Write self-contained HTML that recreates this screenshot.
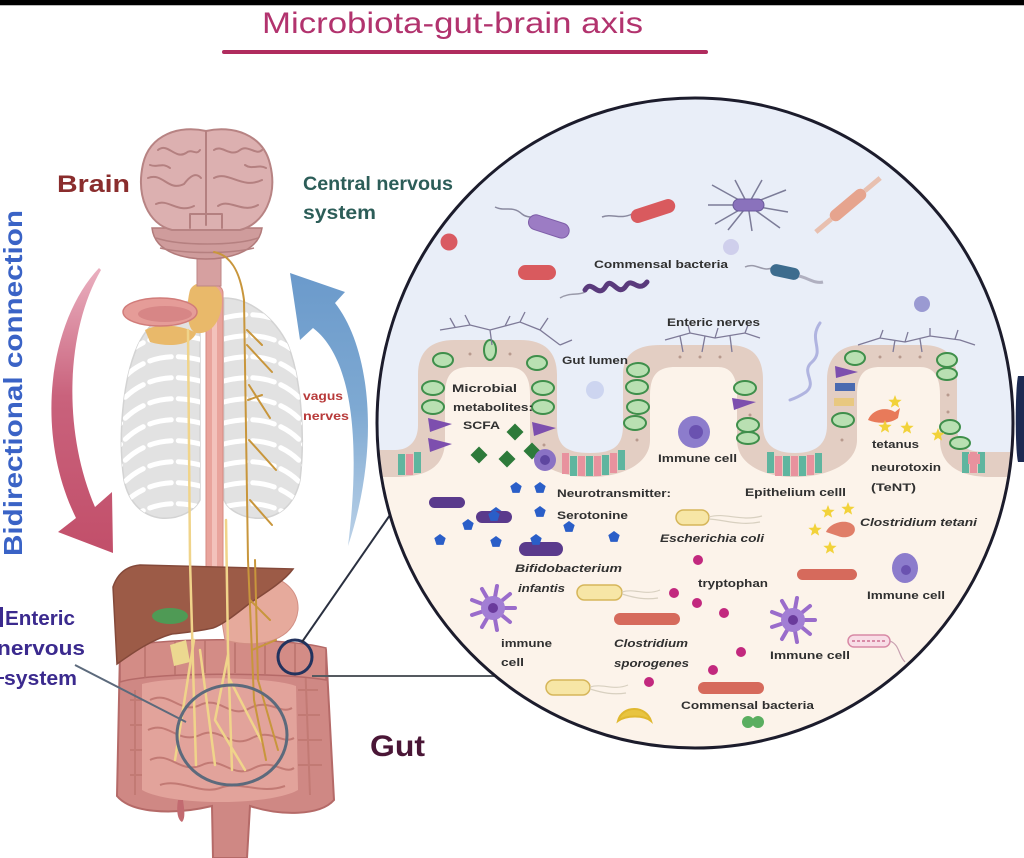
<!DOCTYPE html>
<html><head><meta charset="utf-8"><style>
html,body{margin:0;padding:0;background:#fff;}
svg{display:block;}
text{font-family:"Liberation Sans",sans-serif;}
</style></head><body>
<svg width="1024" height="858" viewBox="0 0 1024 858" xmlns="http://www.w3.org/2000/svg">
<defs>
<clipPath id="cc"><ellipse cx="695" cy="423" rx="318" ry="325"/></clipPath>
<clipPath id="rib">
<path d="M200 300 C175 300 150 320 138 345 C122 380 118 440 124 480 C128 500 140 515 160 518 C180 520 195 510 200 500 Z"/>
<path d="M224 298 C250 298 275 318 288 345 C302 380 305 440 300 480 C296 500 284 515 264 518 C244 520 228 510 224 500 Z"/>
</clipPath>
<polygon id="pent" points="0,-6 5.7,-1.85 3.5,4.85 -3.5,4.85 -5.7,-1.85"/>
<polygon id="star" points="0,-7 1.76,-2.43 6.66,-2.16 2.85,0.93 4.11,5.66 0,3 -4.11,5.66 -2.85,0.93 -6.66,-2.16 -1.76,-2.43"/>
<linearGradient id="rg" x1="0" y1="0" x2="0" y2="1"><stop offset="0" stop-color="#eab0c0"/><stop offset="0.45" stop-color="#c9627c"/><stop offset="1" stop-color="#c24f6a"/></linearGradient>
<linearGradient id="bgr" x1="0" y1="1" x2="0" y2="0"><stop offset="0" stop-color="#bcd2e8"/><stop offset="0.5" stop-color="#7ea9d2"/><stop offset="1" stop-color="#6b9acb"/></linearGradient>
</defs>
<rect width="1024" height="858" fill="#fff"/>
<rect width="1024" height="5" fill="#000"/>
<rect y="5" width="1024" height="1" fill="#bbb"/>

<!-- Title -->
<text x="262" y="33" font-size="30" fill="#b2336e" textLength="381" lengthAdjust="spacingAndGlyphs">Microbiota-gut-brain axis</text>
<rect x="222" y="50" width="486" height="4" rx="2" fill="#b02c5e"/>

<!-- Arrows -->
<path d="M99 268 C50 320 33 430 76 518 L58 532 L113 553 L112 492 L95 507 C62 430 66 330 101 270 Z" fill="url(#rg)"/>
<path d="M290 273 L345 292 L335 303 C372 350 380 450 348 546 C360 450 355 360 313 328 L300 340 Z" fill="url(#bgr)"/>

<!-- Ribcage -->
<g fill="#e2e2e2" stroke="#d3d3d3" stroke-width="1.5">
<path d="M200 300 C175 300 150 320 138 345 C122 380 118 440 124 480 C128 500 140 515 160 518 C180 520 195 510 200 500 Z"/>
<path d="M224 298 C250 298 275 318 288 345 C302 380 305 440 300 480 C296 500 284 515 264 518 C244 520 228 510 224 500 Z"/>
</g>
<g clip-path="url(#rib)" stroke="#fff" stroke-width="5" fill="none" stroke-linecap="round" stroke-dasharray="22 7">
<path d="M200 318 C170 310 140 316 120 340"/><path d="M200 339 C170 331 140 337 120 361"/><path d="M200 360 C170 352 140 358 120 382"/><path d="M200 381 C170 373 140 379 120 403"/><path d="M200 402 C170 394 140 400 120 424"/><path d="M200 423 C170 415 140 421 120 445"/><path d="M200 444 C170 436 140 442 120 466"/><path d="M200 465 C170 457 140 463 120 487"/><path d="M200 486 C170 478 140 484 120 508"/><path d="M200 507 C170 499 140 505 120 529"/>
<path d="M224 318 C254 310 284 316 304 340"/><path d="M224 339 C254 331 284 337 304 361"/><path d="M224 360 C254 352 284 358 304 382"/><path d="M224 381 C254 373 284 379 304 403"/><path d="M224 402 C254 394 284 400 304 424"/><path d="M224 423 C254 415 284 421 304 445"/><path d="M224 444 C254 436 284 442 304 466"/><path d="M224 465 C254 457 284 463 304 487"/><path d="M224 486 C254 478 284 484 304 508"/><path d="M224 507 C254 499 284 505 304 529"/>
</g>

<!-- esophagus / spinal tube -->
<rect x="206" y="285" width="17" height="305" rx="8" fill="#e9a49c" stroke="#d68a82" stroke-width="1"/>
<rect x="212" y="290" width="5" height="295" fill="#f3c2bb"/>

<!-- thyroid & mouth -->
<path d="M190 290 C195 278 222 280 222 300 C222 322 210 335 196 333 C186 330 186 305 190 290 Z" fill="#e9b96a"/>
<path d="M145 330 C160 322 185 326 196 333 C192 345 170 348 150 342 Z" fill="#e9b96a"/>
<ellipse cx="160" cy="312" rx="37" ry="14" fill="#e59c98" stroke="#d17c7a" stroke-width="1.5"/>
<ellipse cx="165" cy="314" rx="27" ry="8" fill="#d78686"/>

<!-- Brain -->
<rect x="197" y="222" width="24" height="64" fill="#d6a0a0" stroke="#bd8686" stroke-width="1"/>
<path d="M152 228 C155 255 190 259 206 259 C222 259 258 255 262 228 Z" fill="#cf9c9c" stroke="#b27b7b" stroke-width="1.5"/>
<path d="M156 238 C180 246 235 246 258 238 M160 248 C185 254 230 254 254 248" fill="none" stroke="#b58080" stroke-width="1.5"/>
<path d="M206 131 C180 125 150 134 143 164 C136 196 148 224 172 230 L240 230 C264 224 278 196 270 164 C263 134 232 125 206 131 Z" fill="#dcb0b0" stroke="#b78383" stroke-width="2"/>
<g fill="none" stroke="#b48080" stroke-width="2" stroke-linecap="round">
<path d="M206 132 L206 225"/>
<path d="M158 150 C168 142 175 160 186 153 C192 148 196 156 200 150"/>
<path d="M148 178 C163 172 168 192 184 184 C190 176 196 172 201 178"/>
<path d="M156 204 C168 198 178 214 194 206"/>
<path d="M150 165 C158 168 162 162 170 168"/>
<path d="M214 150 C222 144 230 158 240 150 C248 144 256 156 262 150"/>
<path d="M214 178 C228 170 242 190 262 180"/>
<path d="M218 206 C230 198 242 214 258 205"/>
<path d="M245 165 C252 170 258 164 266 168"/>
<path d="M190 214 L222 214 M190 214 L190 228 M222 214 L222 228"/>
</g>

<!-- Gut organs -->
<path d="M120 650 C150 640 280 638 326 650 L334 800 C320 816 280 816 250 806 L247 858 L213 858 L212 806 C170 816 130 812 117 796 Z" fill="#cf8884" stroke="#b56a68" stroke-width="2"/>
<path d="M142 684 C170 676 270 676 296 686 L298 790 C270 806 170 806 142 790 Z" fill="#e2a39b"/>
<g fill="none" stroke="#c27a74" stroke-width="2">
<path d="M150 700 C170 690 180 715 200 705 C220 695 230 720 250 708 C270 698 280 715 292 708"/>
<path d="M148 730 C168 720 178 745 200 735 C220 725 230 750 252 738 C272 728 282 745 294 738"/>
<path d="M150 760 C170 750 180 775 202 765 C222 755 232 780 254 768 C274 758 284 775 294 768"/>
<path d="M160 785 C180 778 200 795 220 788 C240 780 260 795 285 786"/>
<path d="M135 690 L135 795 M305 660 L310 795"/>
<path d="M130 700 L142 700 M130 725 L142 725 M130 750 L142 750 M130 775 L142 775"/>
<path d="M298 690 L318 690 M298 715 L320 715 M298 740 L322 740 M298 765 L322 765"/>
</g>
<path d="M120 648 C150 638 280 636 326 648 L326 680 C280 672 150 672 120 682 Z" fill="#d38c86" stroke="#b56a68" stroke-width="1.5"/>
<g stroke="#b9716c" stroke-width="1.5"><line x1="145" y1="645" x2="145" y2="678"/><line x1="175" y1="642" x2="175" y2="675"/><line x1="205" y1="640" x2="205" y2="673"/><line x1="235" y1="640" x2="235" y2="673"/><line x1="265" y1="641" x2="265" y2="674"/><line x1="295" y1="643" x2="295" y2="676"/></g>
<path d="M178 800 C176 812 178 820 182 822 C186 818 184 808 183 800 Z" fill="#c26a70"/>
<path d="M215 580 C250 565 300 575 298 610 C295 640 260 650 225 640 Z" fill="#e6aa9c" stroke="#d28f84" stroke-width="1"/>
<path d="M113 587 C118 572 128 566 140 565 L293 569 C285 580 270 590 250 603 C235 615 222 625 213 628 C195 632 180 633 172 634 C150 640 130 655 117 664 Z" fill="#9c5b47" stroke="#84493a" stroke-width="1.5"/>
<ellipse cx="170" cy="616" rx="18" ry="8" fill="#4f9a55"/>
<path d="M170 645 L186 640 L190 662 L174 666 Z" fill="#ecd890"/>

<!-- Nerves -->
<g fill="none" stroke-linecap="round">
<g stroke="#f0d48a" stroke-width="2.5">
<path d="M188 330 L190 560 L194 700 L196 765"/>
<path d="M226 520 L228 650 L232 770"/>
<path d="M194 640 L175 760"/>
<path d="M200 650 L215 765"/>
<path d="M228 655 L215 720 L245 770"/>
<path d="M230 680 L262 742"/>
</g>
<g stroke="#c8963c" stroke-width="2">
<path d="M214 252 C230 255 240 270 244 300 L248 560 L254 700 L266 760"/>
<path d="M255 560 L258 680 L278 750"/>
<path d="M247 345 L272 372 M249 385 L270 418 M249 440 L276 470 M250 500 L272 525 M247 330 L262 345 M248 400 L262 395 M250 600 L270 620 M252 650 L276 640"/>
</g>
</g>

<!-- Enteric circles & connector lines -->
<ellipse cx="232" cy="735" rx="55" ry="50" fill="none" stroke="#5c6a7c" stroke-width="3"/>
<line x1="75" y1="665" x2="186" y2="722" stroke="#5c6a7c" stroke-width="2"/>
<circle cx="295" cy="657" r="17" fill="none" stroke="#23335e" stroke-width="3"/>
<line x1="302" y1="642" x2="390" y2="515" stroke="#2a3040" stroke-width="2"/>
<line x1="312" y1="676" x2="497" y2="676" stroke="#555a60" stroke-width="2"/>

<!-- Zoom circle -->
<g clip-path="url(#cc)">
<rect x="370" y="90" width="660" height="670" fill="#e9eef8"/>
<path d="M360 450 L395 450 C410 450 418 440 418 425 L418 375 C418 352 430 340 455 340 L520 340 C545 340 557 352 557 375 L557 425 C557 445 565 453 590 453 C615 453 623 445 623 425 L623 375 C623 355 635 345 660 345 L728 345 C753 345 763 357 763 380 L763 425 C763 445 775 453 795 453 C815 453 827 445 827 425 L827 380 C827 357 840 345 862 345 L922 345 C947 345 957 357 957 380 L957 425 C957 445 965 452 985 452 L1030 452 L1030 800 L360 800 Z" fill="#e3cec3"/>
<path d="M360 477 L395 477 C430 477 445 465 445 440 L445 395 C445 375 452 367 470 367 L508 367 C525 367 530 378 530 395 L530 440 C530 465 560 477 590 477 C620 477 650 465 650 440 L650 395 C650 375 658 367 675 367 L718 367 C732 367 737 378 737 395 L737 440 C737 465 765 477 795 477 C825 477 857 465 857 440 L857 395 C857 375 864 367 880 367 L920 367 C935 367 940 378 940 395 L940 440 C940 465 960 477 990 477 L1030 477 L1030 800 L360 800 Z" fill="#fcf3ea"/>
<!-- crypt cells -->
<g>
<rect x="398" y="454" width="7" height="21" fill="#5fb59f"/><rect x="406" y="454" width="7" height="21" fill="#e8929e"/><rect x="414" y="452" width="7" height="21" fill="#5fb59f"/>
<rect x="562" y="453" width="7" height="21" fill="#e8929e"/><rect x="570" y="456" width="7" height="20" fill="#5fb59f"/><rect x="578" y="456" width="7" height="20" fill="#e8929e"/><rect x="586" y="456" width="7" height="20" fill="#5fb59f"/><rect x="594" y="456" width="7" height="20" fill="#e8929e"/><rect x="602" y="455" width="7" height="20" fill="#5fb59f"/><rect x="610" y="453" width="7" height="20" fill="#e8929e"/><rect x="618" y="450" width="7" height="20" fill="#5fb59f"/>
<rect x="767" y="452" width="7" height="21" fill="#5fb59f"/><rect x="775" y="456" width="7" height="20" fill="#e8929e"/><rect x="783" y="456" width="7" height="20" fill="#5fb59f"/><rect x="791" y="456" width="7" height="20" fill="#e8929e"/><rect x="799" y="456" width="7" height="20" fill="#5fb59f"/><rect x="807" y="455" width="7" height="20" fill="#e8929e"/><rect x="815" y="453" width="7" height="20" fill="#5fb59f"/>
<rect x="962" y="452" width="7" height="21" fill="#5fb59f"/><rect x="970" y="452" width="7" height="21" fill="#e8929e"/><rect x="978" y="452" width="7" height="21" fill="#5fb59f"/>
</g>
<!-- band nuclei dots -->
<g fill="#b89a8e">
<circle cx="470" cy="354" r="1.5"/><circle cx="510" cy="354" r="1.5"/><circle cx="431" cy="440" r="1.5"/><circle cx="544" cy="445" r="1.5"/>
<circle cx="680" cy="357" r="1.5"/><circle cx="700" cy="357" r="1.5"/><circle cx="720" cy="357" r="1.5"/><circle cx="637" cy="440" r="1.5"/><circle cx="750" cy="415" r="1.5"/>
<circle cx="880" cy="357" r="1.5"/><circle cx="900" cy="357" r="1.5"/><circle cx="920" cy="357" r="1.5"/><circle cx="948" cy="395" r="1.5"/><circle cx="948" cy="412" r="1.5"/><circle cx="842" cy="440" r="1.5"/>
</g>
<!-- green cells -->
<g fill="#b9e0b2" stroke="#3f8f4b" stroke-width="2">
<ellipse cx="443" cy="360" rx="10" ry="7"/><ellipse cx="433" cy="388" rx="11" ry="7"/><ellipse cx="433" cy="407" rx="11" ry="7"/>
<ellipse cx="490" cy="350" rx="6" ry="10"/>
<ellipse cx="537" cy="363" rx="10" ry="7"/><ellipse cx="543" cy="388" rx="11" ry="7"/><ellipse cx="543" cy="407" rx="11" ry="7"/>
<ellipse cx="638" cy="370" rx="11" ry="7"/><ellipse cx="637" cy="387" rx="11" ry="7"/><ellipse cx="638" cy="407" rx="11" ry="7"/><ellipse cx="635" cy="423" rx="11" ry="7"/>
<ellipse cx="745" cy="388" rx="11" ry="7"/><ellipse cx="748" cy="425" rx="11" ry="7"/><ellipse cx="748" cy="438" rx="11" ry="6"/>
<ellipse cx="855" cy="358" rx="10" ry="7"/><ellipse cx="843" cy="420" rx="11" ry="7"/>
<ellipse cx="947" cy="360" rx="10" ry="7"/><ellipse cx="947" cy="374" rx="10" ry="6"/><ellipse cx="950" cy="427" rx="10" ry="7"/><ellipse cx="960" cy="443" rx="10" ry="6"/>
</g>
<!-- purple/other cells -->
<g fill="#7d4fae">
<path d="M428 418 L452 424 L430 432 Z"/><path d="M428 438 L452 444 L430 452 Z"/>
<path d="M532 422 L556 428 L534 436 Z"/>
<path d="M732 398 L756 402 L734 410 Z"/>
<path d="M835 366 L858 372 L836 378 Z"/>
</g>
<rect x="835" y="383" width="20" height="8" fill="#4a6ab0"/>
<rect x="834" y="398" width="20" height="8" fill="#e8c880"/>
<rect x="968" y="454" width="12" height="10" fill="#e8929e"/>
<!-- enteric nerves -->
<g fill="none" stroke="#7e7a98" stroke-width="1.3">
<path d="M440 330 L470 325 L490 330 L520 322 L540 330 L560 345 M470 325 L465 315 M490 330 L492 345 M520 322 L525 312 M540 330 L548 318 M560 345 L572 340 M455 327 L450 318 M505 326 L510 316"/>
<path d="M665 340 L690 333 L715 338 L745 333 L760 338 M690 333 L688 325 M715 338 L718 328 M745 333 L748 325 M680 336 L683 352 M705 336 L702 352 M730 336 L732 352"/>
<path d="M858 345 L880 338 L905 342 L930 336 L960 340 L975 345 M880 338 L883 330 M905 342 L908 332 M930 336 L930 328 M955 339 L958 330 M895 340 L893 352 M920 339 L922 352"/>
</g>
<!-- lumen bacteria -->
<path d="M495 207 C505 212 512 205 522 214 C528 219 533 215 537 220" fill="none" stroke="#8a8aa0" stroke-width="1.5"/>
<rect x="528" y="219" width="42" height="15" rx="7.5" fill="#9c7cc4" stroke="#7e5ea8" stroke-width="1" transform="rotate(18 549 226)"/>
<path d="M602 217 C612 213 620 220 632 214" fill="none" stroke="#8a8aa0" stroke-width="1.5"/>
<rect x="630" y="204" width="46" height="14" rx="7" fill="#d95a5e" transform="rotate(-18 653 211)"/>
<g stroke="#7c7c98" stroke-width="1.5" fill="none">
<path d="M748 205 L712 185 M748 205 L708 205 M748 205 L715 224 M748 205 L735 180 M748 205 L762 180 M748 205 L786 190 M748 205 L788 212 M748 205 L780 228 M748 205 L752 231 M748 205 L728 230"/>
</g>
<rect x="733" y="199" width="31" height="12" rx="6" fill="#8a72bc" stroke="#6a5a9a" stroke-width="1"/>
<g transform="rotate(-40 848 205)">
<rect x="826" y="199" width="44" height="12" rx="6" fill="#e6a48e"/>
<path d="M826 205 L806 205 M870 205 L890 205" stroke="#e8c0b0" stroke-width="5"/>
</g>
<circle cx="449" cy="242" r="8.5" fill="#d95a62"/>
<circle cx="731" cy="247" r="8" fill="#cfcfec"/>
<rect x="518" y="265" width="38" height="15" rx="7.5" fill="#d95a5e"/>
<path d="M560 298 C570 292 578 296 585 292" fill="none" stroke="#9a9aaa" stroke-width="1.5"/>
<path d="M585 290 C592 278 598 300 606 286 C612 276 618 298 626 286 C632 276 638 294 647 282" fill="none" stroke="#5a3a7c" stroke-width="5" stroke-linecap="round"/>
<path d="M745 267 C755 262 762 272 772 268" fill="none" stroke="#9a9aaa" stroke-width="1.5"/>
<rect x="770" y="266" width="30" height="12" rx="6" fill="#3d6c8e" transform="rotate(12 785 272)"/>
<path d="M799 276 C808 278 815 284 823 282" fill="none" stroke="#b0b0c0" stroke-width="3"/>
<circle cx="922" cy="304" r="8" fill="#9a9ad2"/>
<path d="M820 323 C808 340 825 350 812 362 C800 372 818 382 806 392 C800 396 796 398 790 400" fill="none" stroke="#b0b4e0" stroke-width="3" stroke-linecap="round"/>
<circle cx="595" cy="390" r="9" fill="#cdd5f0"/>
<!-- SCFA -->
<g fill="#2d7a3a">
<rect x="509" y="426" width="12" height="12" transform="rotate(45 515 432)"/>
<rect x="473" y="449" width="12" height="12" transform="rotate(45 479 455)"/>
<rect x="501" y="453" width="12" height="12" transform="rotate(45 507 459)"/>
<rect x="526" y="445" width="12" height="12" transform="rotate(45 532 451)"/>
</g>
<circle cx="545" cy="460" r="11" fill="#8a72c4"/><circle cx="545" cy="460" r="5" fill="#5e46a0"/>
<!-- immune cell middle -->
<circle cx="694" cy="432" r="16" fill="#8c7ccc"/><circle cx="696" cy="432" r="7" fill="#6a52b0"/>
<!-- tetanus area -->
<path d="M868 420 C872 410 885 406 895 412 L900 408 L898 418 C890 424 878 424 868 420 Z" fill="#e87a5a"/>
<g fill="#f2d23a">
<use href="#star" x="895" y="402"/><use href="#star" x="885" y="427"/><use href="#star" x="907" y="428"/><use href="#star" x="938" y="435"/>
</g>
<!-- serotonin -->
<g fill="#2a5ec8">
<use href="#pent" x="516" y="488"/><use href="#pent" x="540" y="488"/><use href="#pent" x="540" y="512"/><use href="#pent" x="468" y="525"/><use href="#pent" x="496" y="513"/><use href="#pent" x="569" y="527"/><use href="#pent" x="614" y="537"/><use href="#pent" x="440" y="540"/><use href="#pent" x="496" y="542"/>
</g>
<rect x="429" y="497" width="36" height="11" rx="5.5" fill="#5a3a8c"/>
<rect x="476" y="511" width="36" height="12" rx="6" fill="#5a3a8c"/>
<rect x="519" y="542" width="44" height="14" rx="7" fill="#5a3a8c"/>
<use href="#pent" x="536" y="540" fill="#2a5ec8"/><use href="#pent" x="494" y="516" fill="#2a5ec8"/>
<!-- E coli rods -->
<g fill="#f7e6a6" stroke="#d6b65a" stroke-width="1.5">
<rect x="676" y="510" width="33" height="15" rx="7.5"/>
<rect x="577" y="585" width="45" height="15" rx="7.5"/>
<rect x="546" y="680" width="44" height="15" rx="7.5"/>
</g>
<g fill="none" stroke="#d8d0c0" stroke-width="1.2">
<path d="M709 517 C725 512 740 522 762 516 M709 519 C725 520 740 526 760 522"/>
<path d="M622 592 C635 588 645 596 660 590 M622 594 C635 598 645 600 658 598"/>
<path d="M590 687 C603 683 613 691 628 685 M590 689 C603 693 613 695 626 693"/>
</g>
<!-- red rods -->
<g fill="#d66a5c">
<rect x="797" y="569" width="60" height="11" rx="5.5"/>
<rect x="614" y="613" width="66" height="12" rx="6"/>
<rect x="698" y="682" width="66" height="12" rx="6"/>
</g>
<!-- tryptophan -->
<g fill="#c2287e">
<circle cx="698" cy="560" r="5"/><circle cx="674" cy="593" r="5"/><circle cx="697" cy="603" r="5"/><circle cx="724" cy="613" r="5"/><circle cx="741" cy="652" r="5"/><circle cx="713" cy="670" r="5"/><circle cx="649" cy="682" r="5"/>
</g>
<!-- C tetani -->
<g fill="#f2d23a"><use href="#star" x="828" y="512"/><use href="#star" x="848" y="509"/><use href="#star" x="815" y="530"/><use href="#star" x="830" y="548"/></g>
<path d="M826 532 C830 522 848 518 854 526 C858 534 848 540 838 536 Z" fill="#e07e68"/>
<!-- immune right -->
<ellipse cx="905" cy="568" rx="13" ry="15" fill="#8c7ccc"/><circle cx="906" cy="570" r="5" fill="#6a52b0"/>
<!-- dendritic cells -->
<g stroke="#9a6ccb" stroke-width="4" stroke-linecap="round">
<line x1="493" y1="608" x2="515" y2="608"/><line x1="493" y1="608" x2="510" y2="622"/><line x1="493" y1="608" x2="497" y2="630"/><line x1="493" y1="608" x2="482" y2="627"/><line x1="493" y1="608" x2="472" y2="615"/><line x1="493" y1="608" x2="472" y2="600"/><line x1="493" y1="608" x2="482" y2="589"/><line x1="493" y1="608" x2="497" y2="586"/><line x1="493" y1="608" x2="510" y2="594"/>
<line x1="793" y1="620" x2="815" y2="620"/><line x1="793" y1="620" x2="810" y2="634"/><line x1="793" y1="620" x2="797" y2="642"/><line x1="793" y1="620" x2="782" y2="639"/><line x1="793" y1="620" x2="772" y2="627"/><line x1="793" y1="620" x2="772" y2="612"/><line x1="793" y1="620" x2="782" y2="601"/><line x1="793" y1="620" x2="797" y2="598"/><line x1="793" y1="620" x2="810" y2="606"/>
</g>
<circle cx="493" cy="608" r="12" fill="#a27ed4"/><circle cx="493" cy="608" r="5" fill="#6a3a9c"/>
<circle cx="793" cy="620" r="12" fill="#a27ed4"/><circle cx="793" cy="620" r="5" fill="#6a3a9c"/>
<!-- pink bacterium -->
<rect x="848" y="635" width="42" height="12" rx="6" fill="#f8dde6" stroke="#d88aa6" stroke-width="1.5"/>
<path d="M852 641 L886 641" stroke="#d88aa6" stroke-width="2" stroke-dasharray="3 2"/>
<path d="M890 641 C900 645 898 655 905 662" fill="none" stroke="#c8a0b0" stroke-width="1.2"/>
<!-- crescent & diplococcus -->
<path d="M618 721 C622 705 646 705 651 721 C644 715 626 715 618 721 Z" fill="#e8c440" stroke="#e0b830" stroke-width="2"/>
<circle cx="748" cy="722" r="6" fill="#5aae60"/><circle cx="758" cy="722" r="6" fill="#5aae60"/>
<!-- labels -->
<g font-size="11" font-weight="bold" fill="#303030">
<text x="594" y="268" textLength="134" lengthAdjust="spacingAndGlyphs">Commensal bacteria</text>
<text x="667" y="326" textLength="93" lengthAdjust="spacingAndGlyphs">Enteric nerves</text>
<text x="562" y="364" textLength="66" lengthAdjust="spacingAndGlyphs">Gut lumen</text>
<text x="452" y="392" textLength="65" lengthAdjust="spacingAndGlyphs">Microbial</text>
<text x="453" y="411" textLength="80" lengthAdjust="spacingAndGlyphs">metabolites:</text>
<text x="463" y="429" textLength="37" lengthAdjust="spacingAndGlyphs">SCFA</text>
<text x="658" y="462" textLength="79" lengthAdjust="spacingAndGlyphs">Immune cell</text>
<text x="557" y="497" textLength="114" lengthAdjust="spacingAndGlyphs">Neurotransmitter:</text>
<text x="557" y="519" textLength="71" lengthAdjust="spacingAndGlyphs">Serotonine</text>
<text x="745" y="496" textLength="101" lengthAdjust="spacingAndGlyphs">Epithelium celll</text>
<text x="872" y="448" textLength="47" lengthAdjust="spacingAndGlyphs">tetanus</text>
<text x="871" y="471" textLength="70" lengthAdjust="spacingAndGlyphs">neurotoxin</text>
<text x="871" y="491" textLength="45" lengthAdjust="spacingAndGlyphs">(TeNT)</text>
<text x="698" y="587" textLength="70" lengthAdjust="spacingAndGlyphs">tryptophan</text>
<text x="867" y="599" textLength="78" lengthAdjust="spacingAndGlyphs">Immune cell</text>
<text x="501" y="647" textLength="51" lengthAdjust="spacingAndGlyphs">immune</text>
<text x="501" y="666" textLength="23" lengthAdjust="spacingAndGlyphs">cell</text>
<text x="770" y="659" textLength="80" lengthAdjust="spacingAndGlyphs">Immune cell</text>
<text x="681" y="709" textLength="133" lengthAdjust="spacingAndGlyphs">Commensal bacteria</text>
</g>
<g font-size="11" font-weight="bold" font-style="italic" fill="#303030">
<text x="660" y="542" textLength="104" lengthAdjust="spacingAndGlyphs">Escherichia coli</text>
<text x="860" y="526" textLength="117" lengthAdjust="spacingAndGlyphs">Clostridium tetani</text>
<text x="515" y="572" textLength="107" lengthAdjust="spacingAndGlyphs">Bifidobacterium</text>
<text x="518" y="592" textLength="47" lengthAdjust="spacingAndGlyphs">infantis</text>
<text x="614" y="647" textLength="74" lengthAdjust="spacingAndGlyphs">Clostridium</text>
<text x="614" y="667" textLength="75" lengthAdjust="spacingAndGlyphs">sporogenes</text>
</g>
</g>
<ellipse cx="695" cy="423" rx="318" ry="325" fill="none" stroke="#1c1c2c" stroke-width="3"/>
<path d="M1024 376 L1018 376 C1015 390 1015 450 1018 462 L1024 462 Z" fill="#1c2a52"/>

<!-- Left labels -->
<text x="57" y="192" font-size="24" font-weight="bold" fill="#8a2d2d" textLength="73" lengthAdjust="spacingAndGlyphs">Brain</text>
<text x="303" y="190" font-size="19" font-weight="bold" fill="#2c5d58" textLength="150" lengthAdjust="spacingAndGlyphs">Central nervous</text>
<text x="303" y="219" font-size="19" font-weight="bold" fill="#2c5d58" textLength="73" lengthAdjust="spacingAndGlyphs">system</text>
<text x="303" y="400" font-size="12" font-weight="bold" fill="#b83a3a" textLength="40" lengthAdjust="spacingAndGlyphs">vagus</text>
<text x="303" y="420" font-size="12" font-weight="bold" fill="#b83a3a" textLength="46" lengthAdjust="spacingAndGlyphs">nerves</text>
<text transform="translate(22,556) rotate(-90)" font-size="26" font-weight="bold" fill="#3a63c6" textLength="346" lengthAdjust="spacingAndGlyphs">Bidirectional connection</text>
<rect x="0" y="607" width="3" height="20" fill="#3b2a8e"/>
<text x="5" y="625" font-size="20" font-weight="bold" fill="#3b2a8e" textLength="70" lengthAdjust="spacingAndGlyphs">Enteric</text>
<text x="-3" y="655" font-size="20" font-weight="bold" fill="#3b2a8e" textLength="88" lengthAdjust="spacingAndGlyphs">nervous</text>
<rect x="0" y="677" width="4" height="2" fill="#3b2a8e"/>
<text x="4" y="685" font-size="20" font-weight="bold" fill="#3b2a8e" textLength="73" lengthAdjust="spacingAndGlyphs">system</text>
<text x="370" y="756" font-size="30" font-weight="bold" fill="#4a1636" textLength="55" lengthAdjust="spacingAndGlyphs">Gut</text>
</svg>
</body></html>
